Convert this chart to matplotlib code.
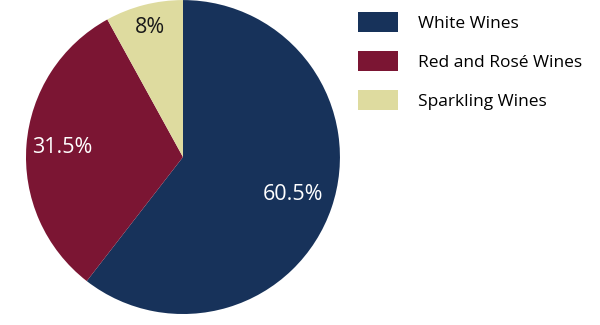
import matplotlib
matplotlib.use("Agg")
import matplotlib.pyplot as plt
from matplotlib.patches import Patch
import numpy as np

plt.rcParams['font.family'] = ['Open Sans', 'DejaVu Sans']

# data
labels = ['White Wines', 'Red and Rosé Wines', 'Sparkling Wines']
shares = [60.5, 31.5, 8]
pct_text = ['60.5%', '31.5%', '8%']
colors = ['#17325A', '#7B1533', '#DEDB9F']
text_colors = ['white', 'white', '#1a1a1a']
label_dist = [0.74, 0.77, 0.85]

fig = plt.figure(figsize=(6, 3.25), dpi=100)
ax = fig.add_axes([0.0433, 0.0338, 0.5233, 0.966])

wedges, texts = ax.pie(shares, colors=colors, startangle=90, counterclock=False,
                       labels=pct_text, labeldistance=1.0,
                       wedgeprops=dict(linewidth=0),
                       textprops=dict(fontsize=15.5))
for t, c, d in zip(texts, text_colors, label_dist):
    t.set_color(c)
    t.set_ha('center')
    t.set_va('center')
    x, y = t.get_position()
    t.set_position((x * d, y * d))
ax.set_xlim(-1, 1)
ax.set_ylim(-1, 1)
ax.set_aspect('equal')

handles = [Patch(facecolor=c, edgecolor='none') for c in colors]
fig.legend(handles, labels, loc='upper left', bbox_to_anchor=(358 / 600, 1 - 12 / 325),
           frameon=False, fontsize=12.5, handlelength=2.3, handleheight=1.4,
           handletextpad=1.15, labelspacing=1.1, borderpad=0, borderaxespad=0)

fig.savefig('out.png', dpi=100)
